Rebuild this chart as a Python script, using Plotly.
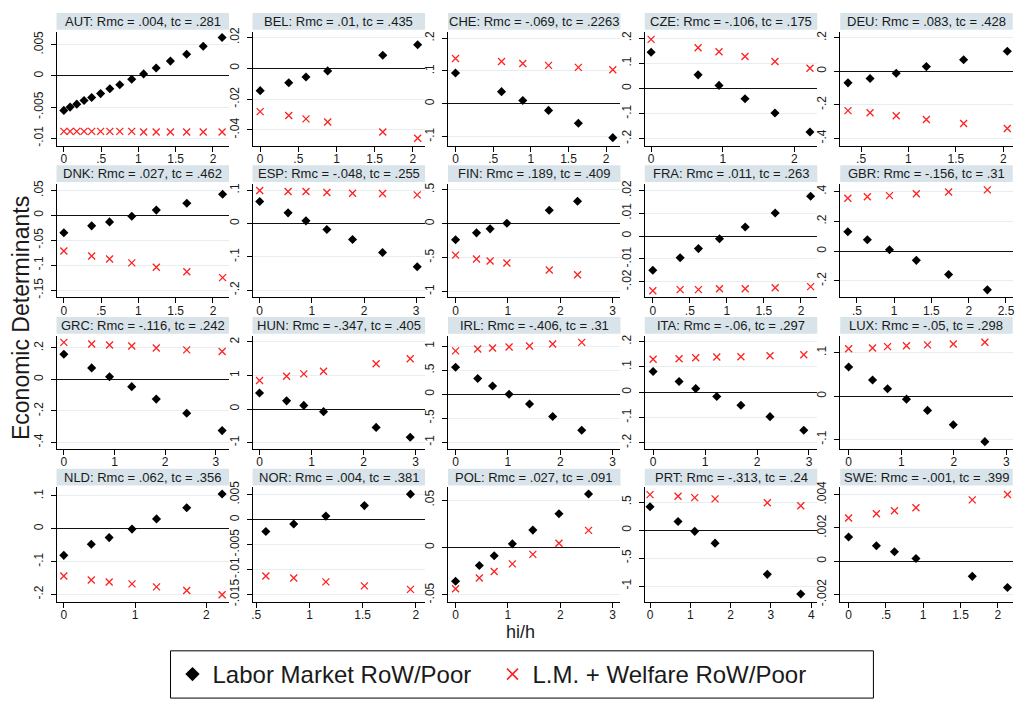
import plotly.graph_objects as go

W, H = 1018, 709

# ---------------- data ----------------
countries = ["AUT", "BEL", "CHE", "CZE", "DEU",
             "DNK", "ESP", "FIN", "FRA", "GBR",
             "GRC", "HUN", "IRL", "ITA", "LUX",
             "NLD", "NOR", "POL", "PRT", "SWE"]
rmc = [".004", ".01", "-.069", "-.106", ".083",
       ".027", "-.048", ".189", ".011", "-.156",
       "-.116", "-.347", "-.406", "-.06", "-.05",
       ".062", ".004", ".027", "-.313", "-.001"]
tc = [".281", ".435", ".2263", ".175", ".428",
      ".462", ".255", ".409", ".263", ".31",
      ".242", ".405", ".31", ".297", ".298",
      ".356", ".381", ".091", ".24", ".399"]

AUT_x = [0, 0.084, 0.173, 0.271, 0.373, 0.493, 0.617, 0.750, 0.910, 1.070, 1.238, 1.429, 1.647, 1.869, 2.122]
AUT_lm = [-0.00553, -0.0050, -0.00453, -0.00395, -0.00347, -0.00284, -0.00205, -0.00142, -0.00053, 0.00032, 0.00126, 0.00237, 0.00347, 0.00474, 0.00616]
AUT_lmw = [-0.0089, -0.0089, -0.0089, -0.0089, -0.0089, -0.0089, -0.0089, -0.0089, -0.0089, -0.0090, -0.0090, -0.0090, -0.0090, -0.0090, -0.0090]

BEL_x = [0, 0.374, 0.600, 0.884, 1.606, 2.063]
BEL_lm = [-0.0145, -0.0094, -0.0057, -0.0017, 0.0085, 0.0153]
BEL_lmw = [-0.0281, -0.0306, -0.0328, -0.0349, -0.0413, -0.0454]

CHE_x = [0, 0.611, 0.893, 1.235, 1.631, 2.088]
CHE_lm = [0.094, 0.037, 0.010, -0.020, -0.059, -0.103]
CHE_lmw = [0.138, 0.129, 0.123, 0.117, 0.111, 0.104]

CZE_x = [0, 0.656, 0.948, 1.311, 1.729, 2.218]
CZE_lm = [0.144, 0.054, 0.012, -0.041, -0.098, -0.173]
CZE_lmw = [0.195, 0.162, 0.146, 0.127, 0.107, 0.080]

DEU_x = [0.362, 0.595, 0.871, 1.189, 1.582, 2.043]
DEU_lm = [-0.069, -0.043, -0.012, 0.028, 0.069, 0.120]
DEU_lmw = [-0.235, -0.247, -0.265, -0.288, -0.312, -0.341]

DNK_x = [0, 0.373, 0.613, 0.911, 1.240, 1.649, 2.129]
DNK_lm = [-0.0349, -0.0211, -0.0132, -0.0020, 0.0105, 0.0243, 0.0421]
DNK_lmw = [-0.0717, -0.0816, -0.0875, -0.0954, -0.104, -0.113, -0.125]

ESP_x = [0, 0.544, 0.887, 1.288, 1.78, 2.355, 3.02]
ESP_lm = [0.066, 0.032, 0.008, -0.018, -0.048, -0.087, -0.130]
ESP_lmw = [0.099, 0.096, 0.096, 0.093, 0.091, 0.090, 0.086]

FIN_x = [0, 0.40, 0.66, 0.98, 1.79, 2.33]
FIN_lm = [-0.237, -0.136, -0.077, 0.005, 0.198, 0.329]
FIN_lmw = [-0.465, -0.523, -0.552, -0.581, -0.683, -0.755]

FRA_x = [0, 0.369, 0.616, 0.90, 1.247, 1.652, 2.13]
FRA_lm = [-0.0150, -0.0095, -0.0055, -0.0012, 0.0040, 0.0101, 0.0175]
FRA_lmw = [-0.0240, -0.0235, -0.0235, -0.0231, -0.0231, -0.0227, -0.0222]

GBR_x = [0.378, 0.64, 0.937, 1.297, 1.73, 2.25]
GBR_lm = [0.130, 0.077, 0.009, -0.062, -0.157, -0.260]
GBR_lmw = [0.355, 0.366, 0.373, 0.386, 0.397, 0.412]

GRC_x = [0, 0.549, 0.902, 1.34, 1.824, 2.425, 3.124]
GRC_lm = [0.160, 0.073, 0.017, -0.046, -0.125, -0.215, -0.325]
GRC_lmw = [0.235, 0.225, 0.219, 0.2125, 0.200, 0.1875, 0.177]

HUN_x = [0, 0.52, 0.85, 1.23, 2.24, 2.895]
HUN_lm = [0.479, 0.244, 0.108, -0.078, -0.547, -0.841]
HUN_lmw = [0.85, 0.977, 1.046, 1.124, 1.349, 1.496]

IRL_x = [0, 0.423, 0.707, 1.022, 1.413, 1.855, 2.41]
IRL_lm = [0.562, 0.329, 0.171, 0.0, -0.205, -0.466, -0.753]
IRL_lmw = [0.904, 0.945, 0.966, 0.986, 1.007, 1.048, 1.082]

ITA_x = [0, 0.50, 0.82, 1.225, 1.69, 2.25, 2.90]
ITA_lm = [0.082, 0.042, 0.014, -0.017, -0.052, -0.097, -0.151]
ITA_lmw = [0.130, 0.132, 0.136, 0.139, 0.140, 0.144, 0.148]

LUX_x = [0, 0.455, 0.74, 1.10, 1.50, 1.99, 2.59]
LUX_lm = [0.067, 0.037, 0.017, -0.007, -0.033, -0.066, -0.105]
LUX_lmw = [0.109, 0.111, 0.114, 0.116, 0.118, 0.120, 0.124]

NLD_x = [0, 0.386, 0.637, 0.958, 1.302, 1.726, 2.223]
NLD_lm = [-0.081, -0.047, -0.027, -0.001, 0.030, 0.064, 0.106]
NLD_lmw = [-0.144, -0.156, -0.162, -0.168, -0.177, -0.188, -0.201]

NOR_x = [0.59, 0.852, 1.154, 1.516, 1.949]
NOR_lm = [-0.0024, -0.0009, 0.0007, 0.0028, 0.0051]
NOR_lmw = [-0.0113, -0.0117, -0.0125, -0.0133, -0.0140]

POL_x = [0, 0.454, 0.738, 1.085, 1.476, 1.975, 2.54]
POL_lm = [-0.0356, -0.019, -0.0087, 0.0038, 0.0183, 0.0356, 0.0564]
POL_lmw = [-0.0436, -0.0322, -0.0253, -0.0173, -0.0073, 0.0045, 0.018]

PRT_x = [0, 0.695, 1.109, 1.613, 2.91, 3.74]
PRT_lm = [0.416, 0.152, -0.023, -0.234, -0.791, -1.143]
PRT_lmw = [0.633, 0.604, 0.580, 0.557, 0.487, 0.434]

SWE_x = [0, 0.373, 0.615, 0.903, 1.658, 2.13]
SWE_lm = [0.00146, 0.00093, 0.00057, 0.00016, -0.00091, -0.00158]
SWE_lmw = [0.0026, 0.00286, 0.00304, 0.00322, 0.00369, 0.00401]

hi_h = [AUT_x, BEL_x, CHE_x, CZE_x, DEU_x, DNK_x, ESP_x, FIN_x, FRA_x, GBR_x,
        GRC_x, HUN_x, IRL_x, ITA_x, LUX_x, NLD_x, NOR_x, POL_x, PRT_x, SWE_x]
labor = [AUT_lm, BEL_lm, CHE_lm, CZE_lm, DEU_lm, DNK_lm, ESP_lm, FIN_lm, FRA_lm, GBR_lm,
         GRC_lm, HUN_lm, IRL_lm, ITA_lm, LUX_lm, NLD_lm, NOR_lm, POL_lm, PRT_lm, SWE_lm]
welfare = [AUT_lmw, BEL_lmw, CHE_lmw, CZE_lmw, DEU_lmw, DNK_lmw, ESP_lmw, FIN_lmw, FRA_lmw, GBR_lmw,
           GRC_lmw, HUN_lmw, IRL_lmw, ITA_lmw, LUX_lmw, NLD_lmw, NOR_lmw, POL_lmw, PRT_lmw, SWE_lmw]

# tick values
X5 = [0, 0.5, 1, 1.5, 2]
X3 = [0, 1, 2, 3]
x_ticks = [X5, X5, X5, [0, 1, 2], [0.5, 1, 1.5, 2],
           X5, X3, X3, X5, [0.5, 1, 1.5, 2, 2.5],
           X3, X3, X3, X3, X3,
           [0, 1, 2], [0.5, 1, 1.5, 2], X3, [0, 1, 2, 3, 4], X5]
y_ticks = [[0.005, 0, -0.005, -0.01], [0.02, 0, -0.02, -0.04], [0.2, 0.1, 0, -0.1],
           [0.2, 0.1, 0, -0.1, -0.2], [0.2, 0, -0.2, -0.4],
           [0.05, 0, -0.05, -0.1, -0.15], [0.1, 0, -0.1, -0.2], [0.5, 0, -0.5, -1],
           [0.02, 0.01, 0, -0.01, -0.02], [0.4, 0.2, 0, -0.2],
           [0.2, 0, -0.2, -0.4], [2, 1, 0, -1], [1, 0.5, 0, -0.5, -1],
           [0.2, 0.1, 0, -0.1, -0.2], [0.1, 0, -0.1],
           [0.1, 0, -0.1, -0.2], [0.005, 0, -0.005, -0.01, -0.015], [0.05, 0, -0.05],
           [0.5, 0, -0.5, -1], [0.004, 0.002, 0, -0.002]]

x_ranges = [[-0.098, 2.215], [-0.10, 2.16], [-0.10, 2.19], [-0.088, 2.32], [0.28, 2.10],
            [-0.098, 2.215], [-0.137, 3.17], [-0.145, 3.15], [-0.108, 2.22], [0.276, 2.59],
            [-0.144, 3.26], [-0.134, 3.18], [-0.145, 3.15], [-0.16, 3.16], [-0.16, 3.12],
            [-0.102, 2.32], [0.465, 2.086], [-0.145, 3.15], [-0.13, 4.15], [-0.112, 2.2]]
y_ranges = [[-0.01116, 0.0071], [-0.0501, 0.0238], [-0.127, 0.22], [-0.227, 0.226], [-0.443, 0.237],
            [-0.164, 0.063], [-0.221, 0.119], [-1.084, 0.586], [-0.0268, 0.0229], [-0.309, 0.452],
            [-0.442, 0.277], [-1.19, 2.18], [-1.144, 1.219], [-0.225, 0.223], [-0.122, 0.139],
            [-0.222, 0.126], [-0.01645, 0.00645], [-0.0571, 0.0633], [-1.278, 0.762], [-0.00243, 0.00444]]

series_names = ["Labor Market RoW/Poor", "L.M. + Welfare RoW/Poor"]


def fmt(v):
    s = f"{v:g}"
    if s.startswith("-0."):
        s = "-" + s[2:]
    elif s.startswith("0."):
        s = s[1:]
    return s


# ---------------- layout geometry (px) ----------------
col_left = [55.7, 252.3, 448.3, 645.7, 841.7]
panel_w = 173.0
plot_top = [26.0, 180.7, 335.0, 489.0]
plot_bot = [141.7, 295.7, 450.0, 605.0]

FONT = "Liberation Sans, Arial, Helvetica, sans-serif"
TXT = "#1a1a1a"
BAR = "#d8e3ea"
GRID = "#e6eef2"
BLACK = "#000000"
RED = "#ff2020"

fig = go.Figure()
layout = dict(
    width=W, height=H,
    margin=dict(l=0, r=0, t=0, b=0),
    paper_bgcolor="white", plot_bgcolor="white",
    font=dict(family=FONT, color=TXT),
    showlegend=True,
)
shapes = []
annotations = []

for i, cc in enumerate(countries):
    r, c = divmod(i, 5)
    sfx = "" if i == 0 else str(i + 1)
    x0 = col_left[c]
    x1 = x0 + panel_w
    yt = plot_top[r]
    yb = plot_bot[r]
    layout["xaxis" + sfx] = dict(
        domain=[x0 / W, x1 / W], anchor="y" + sfx, range=x_ranges[i],
        showline=True, linecolor=BLACK, linewidth=1, mirror=False,
        ticks="outside", ticklen=5, tickwidth=1, tickcolor=BLACK,
        tickvals=x_ticks[i], ticktext=[fmt(v) for v in x_ticks[i]],
        tickfont=dict(size=12, color=TXT, family=FONT), ticklabelstandoff=-3,
        showgrid=False, zeroline=False, fixedrange=True,
    )
    layout["yaxis" + sfx] = dict(
        domain=[1 - yb / H, 1 - yt / H], anchor="x" + sfx, range=y_ranges[i],
        showline=True, linecolor=BLACK, linewidth=1,
        ticks="outside", ticklen=5, tickwidth=1, tickcolor=BLACK,
        tickvals=y_ticks[i], ticktext=[fmt(v) for v in y_ticks[i]],
        tickangle=-90, tickfont=dict(size=12, color=TXT, family=FONT), ticklabelstandoff=3,
        showgrid=True, gridcolor=GRID, gridwidth=1,
        zeroline=True, zerolinecolor="#111111", zerolinewidth=1, fixedrange=True,
    )
    # title bar
    tb_top = yt - 19
    tb_bot = yt - 2
    shapes.append(dict(type="rect", xref="paper", yref="paper",
                       x0=x0 / W, x1=x1 / W, y0=1 - tb_bot / H, y1=1 - tb_top / H,
                       fillcolor=BAR, line=dict(width=0), layer="below"))
    annotations.append(dict(xref="paper", yref="paper",
                            x=(x0 + x1) / 2 / W, y=1 - (tb_top + tb_bot) / 2 / H,
                            text=f"{cc}: Rmc = {rmc[i]}, tc = {tc[i]}",
                            showarrow=False, xanchor="center", yanchor="middle",
                            font=dict(size=13, color=TXT, family=FONT)))
    xa = "x" + sfx
    ya = "y" + sfx
    fig.add_trace(go.Scatter(x=hi_h[i], y=labor[i], mode="markers", xaxis=xa, yaxis=ya,
                             marker=dict(symbol="diamond", size=7, color=BLACK,
                                         line=dict(width=0)),
                             showlegend=False, name=series_names[0]))
    fig.add_trace(go.Scatter(x=hi_h[i], y=welfare[i], mode="markers", xaxis=xa, yaxis=ya,
                             marker=dict(symbol="x-thin-open", size=7, color=RED,
                                         line=dict(width=1.3, color=RED)),
                             showlegend=False, name=series_names[1]))

# legend entries
fig.add_trace(go.Scatter(x=[None], y=[None], mode="markers", name=series_names[0],
                         marker=dict(symbol="diamond", size=11, color=BLACK)))
fig.add_trace(go.Scatter(x=[None], y=[None], mode="markers", name=series_names[1],
                         marker=dict(symbol="x-thin-open", size=11, color=RED,
                                     line=dict(width=1.6, color=RED))))

# legend box
shapes.append(dict(type="rect", xref="paper", yref="paper",
                   x0=170 / W, x1=875 / W, y0=1 - 703 / H, y1=1 - 655 / H,
                   fillcolor="rgba(0,0,0,0)", line=dict(width=1, color=BLACK)))

layout["legend"] = dict(orientation="h", x=172 / W, xanchor="left",
                        y=1 - 679 / H, yanchor="middle",
                        bgcolor="rgba(0,0,0,0)", borderwidth=0,
                        font=dict(size=24, color=TXT, family=FONT),
                        entrywidth=275, itemsizing="trace")

# axis titles
annotations.append(dict(xref="paper", yref="paper", x=20 / W, y=1 - 317 / H,
                        text="Economic Determinants", textangle=-90, showarrow=False,
                        xanchor="center", yanchor="middle",
                        font=dict(size=23, color=TXT, family=FONT)))
annotations.append(dict(xref="paper", yref="paper", x=521 / W, y=1 - 636 / H,
                        text="hi/h", showarrow=False, xanchor="center", yanchor="middle",
                        font=dict(size=18, color=TXT, family=FONT)))

layout["shapes"] = shapes
layout["annotations"] = annotations
fig.update_layout(**layout)

fig.write_html("out.html", config={"displayModeBar": False},
               post_script="document.body.style.margin='0px';document.body.style.overflow='hidden';")
